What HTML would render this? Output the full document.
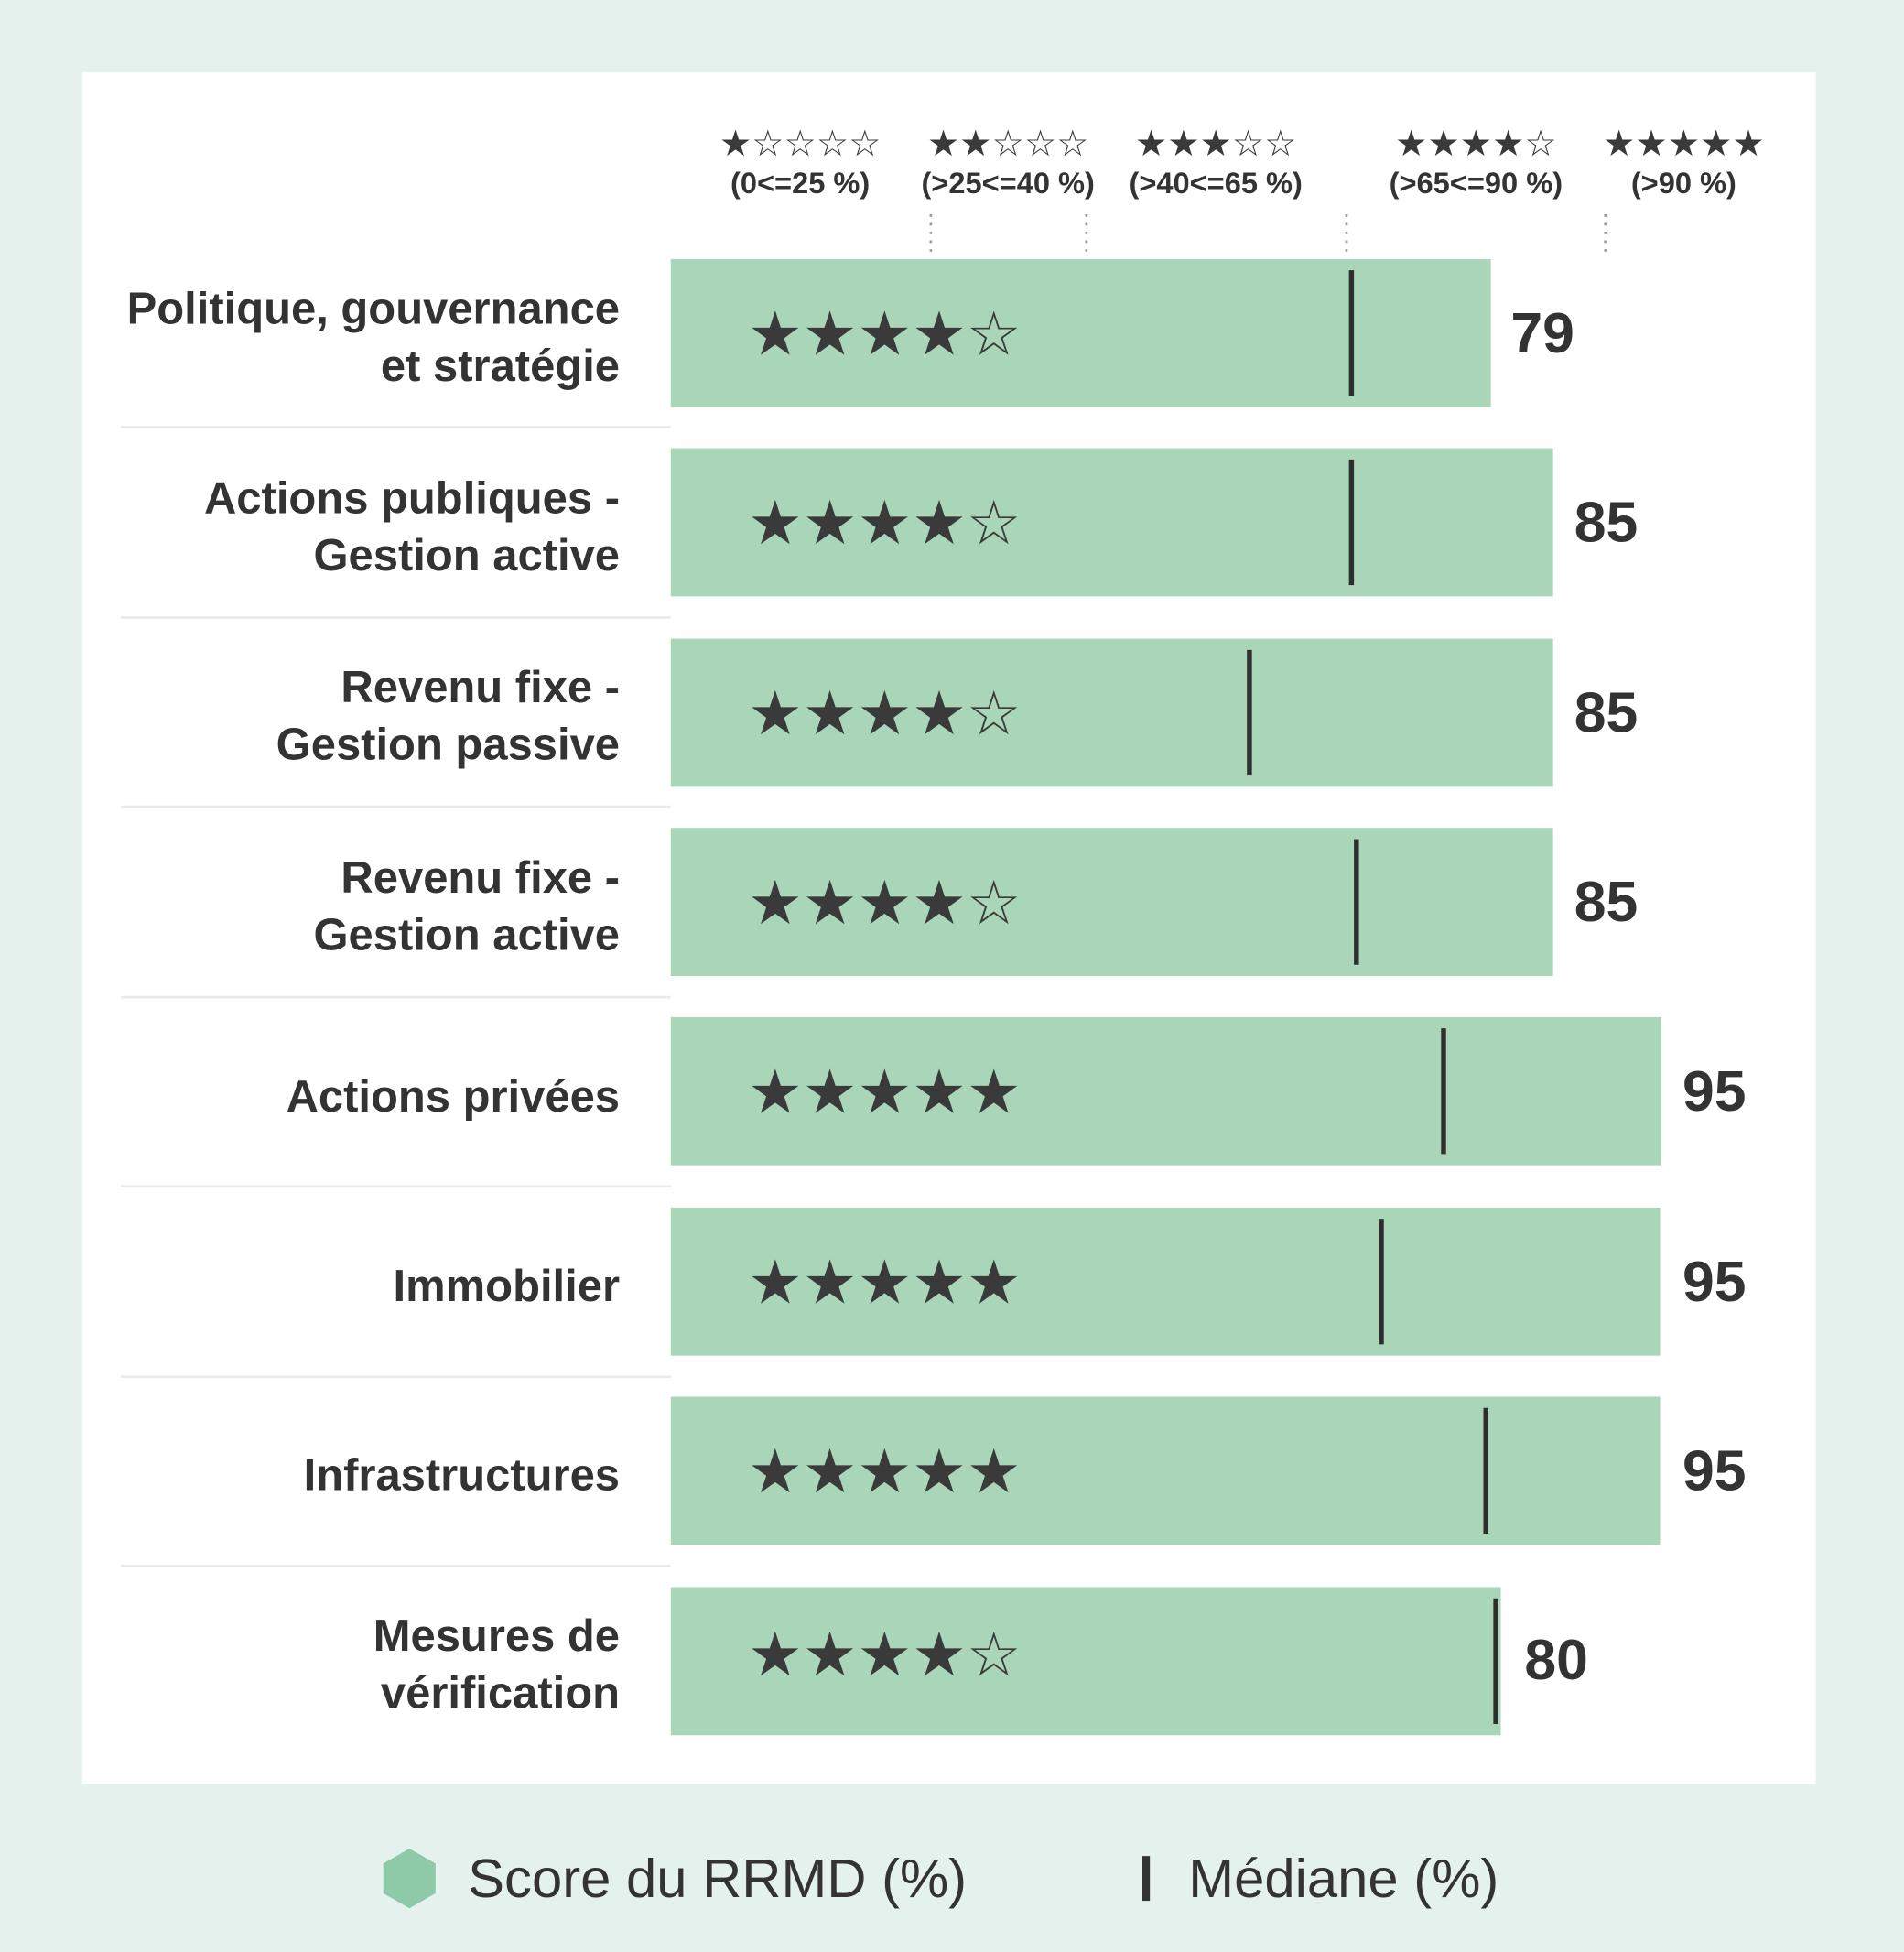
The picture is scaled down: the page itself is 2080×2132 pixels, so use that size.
<!DOCTYPE html>
<html><head><meta charset="utf-8"><style>
html,body{margin:0;padding:0;background:#e5f1ec;}
svg{display:block}
.lbl{font-family:"Liberation Sans",sans-serif;font-weight:bold;font-size:36px;fill:#333;text-anchor:end}
.val{font-family:"Liberation Sans",sans-serif;font-weight:bold;font-size:46px;fill:#333}
.st{font-family:"DejaVu Sans",sans-serif;font-size:49px;fill:#3a3a3a}
.hs{font-family:"DejaVu Sans",sans-serif;font-size:29px;fill:#3a3a3a;text-anchor:middle}
.hl{font-family:"Liberation Sans",sans-serif;font-weight:bold;font-size:24px;fill:#333;text-anchor:middle}
.lg{font-family:"Liberation Sans",sans-serif;font-size:44px;fill:#333}
</style></head><body>
<svg width="2080" height="2132" viewBox="0 0 1530 1568" xmlns="http://www.w3.org/2000/svg">
<rect x="0" y="0" width="1530" height="1568" fill="#e5f1ec"/>
<rect x="66" y="58" width="1393" height="1375" fill="#fff"/>
<g>
<text class="hs" x="643" y="125">★☆☆☆☆</text>
<text class="hs" x="810" y="125">★★☆☆☆</text>
<text class="hs" x="977" y="125">★★★☆☆</text>
<text class="hs" x="1186" y="125">★★★★☆</text>
<text class="hs" x="1353" y="125">★★★★★</text>
<text class="hl" x="643" y="155">(0&lt;=25 %)</text>
<text class="hl" x="810" y="155">(&gt;25&lt;=40 %)</text>
<text class="hl" x="977" y="155">(&gt;40&lt;=65 %)</text>
<text class="hl" x="1186" y="155">(&gt;65&lt;=90 %)</text>
<text class="hl" x="1353" y="155">(&gt;90 %)</text>
</g>
<g stroke="#999" stroke-width="2" stroke-dasharray="2,5">
<line x1="748" y1="172" x2="748" y2="207"/><line x1="873" y1="172" x2="873" y2="207"/>
<line x1="1082" y1="172" x2="1082" y2="207"/><line x1="1290" y1="172" x2="1290" y2="207"/>
</g>
<g stroke="#eaeaea" stroke-width="2">
<line x1="97" y1="343" x2="539" y2="343"/><line x1="97" y1="496" x2="539" y2="496"/>
<line x1="97" y1="648" x2="539" y2="648"/><line x1="97" y1="801" x2="539" y2="801"/>
<line x1="97" y1="953" x2="539" y2="953"/><line x1="97" y1="1106" x2="539" y2="1106"/>
<line x1="97" y1="1258" x2="539" y2="1258"/>
</g>
<g fill="#a9d5b8">
<rect x="539" y="208" width="659" height="119"/>
<rect x="539" y="360" width="709" height="119"/>
<rect x="539" y="513" width="709" height="119"/>
<rect x="539" y="665" width="709" height="119"/>
<rect x="539" y="817" width="796" height="119"/>
<rect x="539" y="970" width="795" height="119"/>
<rect x="539" y="1122" width="795" height="119"/>
<rect x="539" y="1275" width="667" height="119"/>
</g>
<g stroke="#2e2e2e" stroke-width="4">
<line x1="1086" y1="217" x2="1086" y2="318"/>
<line x1="1086" y1="369" x2="1086" y2="470"/>
<line x1="1004" y1="522" x2="1004" y2="623"/>
<line x1="1090" y1="674" x2="1090" y2="775"/>
<line x1="1160" y1="826" x2="1160" y2="927"/>
<line x1="1110" y1="979" x2="1110" y2="1080"/>
<line x1="1194" y1="1131" x2="1194" y2="1232"/>
<line x1="1202" y1="1284" x2="1202" y2="1385"/>
</g>
<g>
<text class="st" x="601" y="285">★★★★☆</text>
<text class="st" x="601" y="437">★★★★☆</text>
<text class="st" x="601" y="590">★★★★☆</text>
<text class="st" x="601" y="742">★★★★☆</text>
<text class="st" x="601" y="894">★★★★★</text>
<text class="st" x="601" y="1047">★★★★★</text>
<text class="st" x="601" y="1199">★★★★★</text>
<text class="st" x="601" y="1346">★★★★☆</text>
</g>
<g>
<text class="val" x="1214" y="283">79</text>
<text class="val" x="1265" y="435">85</text>
<text class="val" x="1265" y="588">85</text>
<text class="val" x="1265" y="740">85</text>
<text class="val" x="1352" y="892">95</text>
<text class="val" x="1352" y="1045">95</text>
<text class="val" x="1352" y="1197">95</text>
<text class="val" x="1225" y="1349">80</text>
</g>
<g>
<text class="lbl" x="498" y="260">Politique, gouvernance</text>
<text class="lbl" x="498" y="306">et stratégie</text>
<text class="lbl" x="498" y="412">Actions publiques -</text>
<text class="lbl" x="498" y="458">Gestion active</text>
<text class="lbl" x="498" y="564">Revenu fixe -</text>
<text class="lbl" x="498" y="610">Gestion passive</text>
<text class="lbl" x="498" y="717">Revenu fixe -</text>
<text class="lbl" x="498" y="763">Gestion active</text>
<text class="lbl" x="498" y="893">Actions privées</text>
<text class="lbl" x="498" y="1045">Immobilier</text>
<text class="lbl" x="498" y="1197">Infrastructures</text>
<text class="lbl" x="498" y="1326">Mesures de</text>
<text class="lbl" x="498" y="1372">vérification</text>
</g>
<polygon points="329,1485 350,1497 350,1521 329,1533 308,1521 308,1497" fill="#8fcaa8"/>
<text class="lg" x="376" y="1524">Score du RRMD (%)</text>
<rect x="918" y="1491" width="6" height="36" fill="#333"/>
<text class="lg" x="955" y="1524">Médiane (%)</text>
</svg>
</body></html>
